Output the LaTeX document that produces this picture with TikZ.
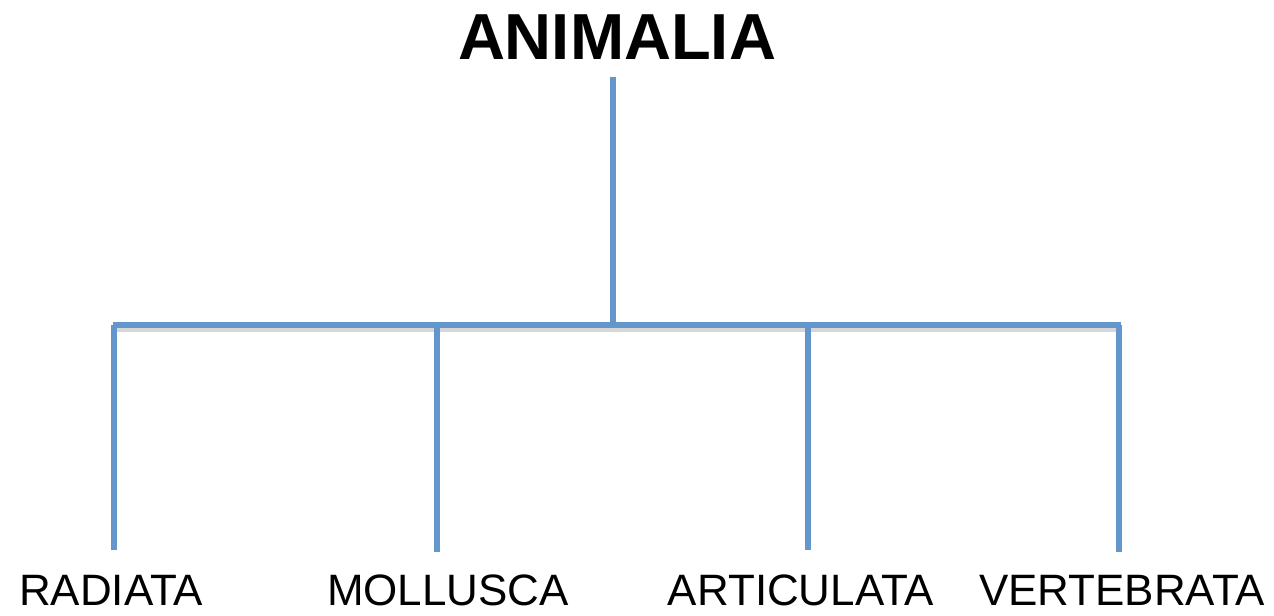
\documentclass[tikz,border=0pt]{standalone}
\usepackage{fontspec}
\setmainfont{Liberation Sans}
\definecolor{branchblue}{RGB}{99,151,204}
\definecolor{shade}{RGB}{214,214,214}

\begin{document}
\begin{tikzpicture}[x=0.01cm,y=-0.01cm,
    branch/.style={draw=branchblue,line width=1.6pt},
    shadow/.style={draw=shade,line width=1.2pt},
    title/.style={font=\fontsize{18.5}{22}\selectfont\bfseries},
    taxon/.style={font=\fontsize{12.5}{15}\selectfont}]
    \useasboundingbox (0,0) rectangle (1274,616);
    % top node
    \node[title] (animalia) at (617,37) {ANIMALIA};
    % bar and junctions
    \coordinate (hubtop) at (613,77);
    \coordinate (hub) at (613,325);
    \coordinate (barL) at (113,325);
    \coordinate (barR) at (1121,325);
    % bottom nodes
    \node[taxon] (radiata) at (111,590) {RADIATA};
    \node[taxon] (mollusca) at (448,590) {MOLLUSCA};
    \node[taxon] (articulata) at (801,590) {ARTICULATA};
    \node[taxon] (vertebrata) at (1122,590) {VERTEBRATA};
    % drop ends
    \coordinate (radtop) at (114,325);
    \coordinate (radend) at (114,550);
    \coordinate (moltop) at (437,325);
    \coordinate (molend) at (437,552);
    \coordinate (arttop) at (808,325);
    \coordinate (artend) at (808,550);
    \coordinate (vertop) at (1119,325);
    \coordinate (verend) at (1119,552);
    % shading under the bar
    \draw[shadow] ([yshift=-1.4pt]barL) -- ([yshift=-1.4pt]barR);
    \draw[branch] (hubtop) -- (hub);
    \draw[branch] (barL) -- (barR);
    \draw[branch] (radtop) -- (radend);
    \draw[branch] (moltop) -- (molend);
    \draw[branch] (arttop) -- (artend);
    \draw[branch] (vertop) -- (verend);
\end{tikzpicture}
\end{document}
